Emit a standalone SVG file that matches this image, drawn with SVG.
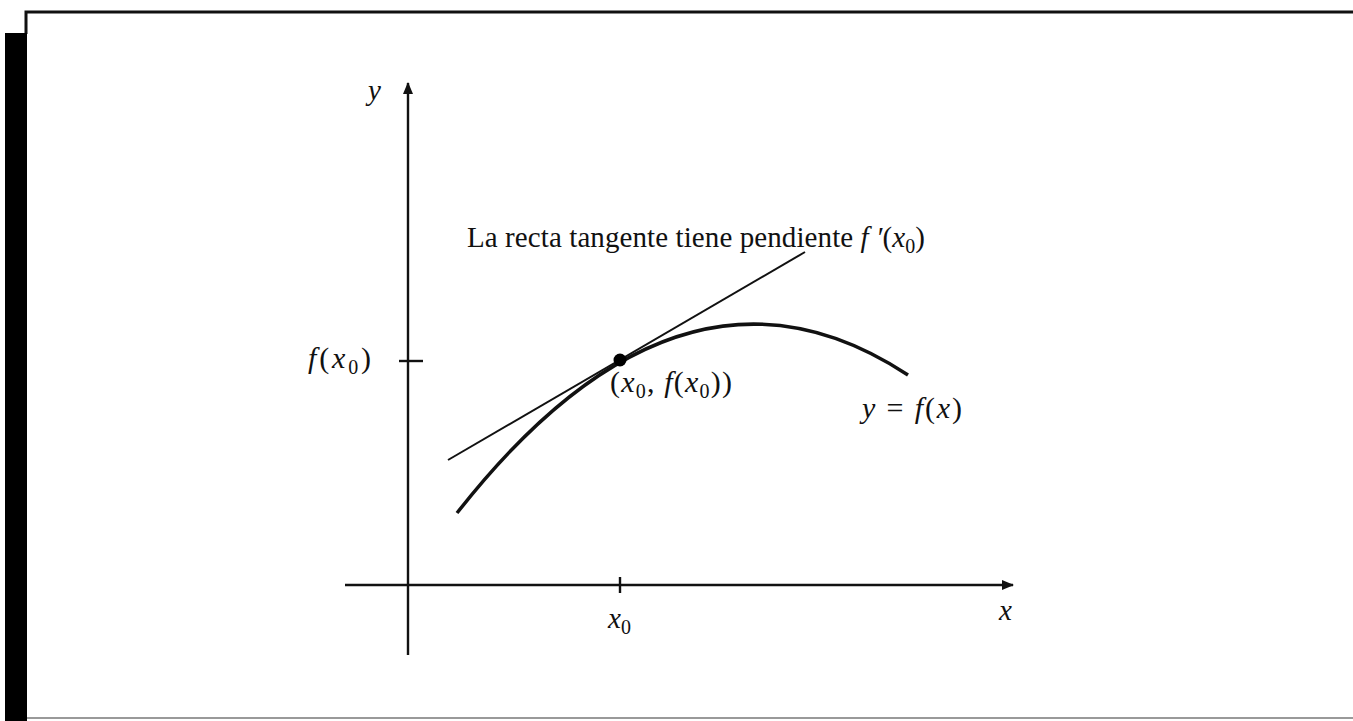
<svg xmlns="http://www.w3.org/2000/svg" width="1353" height="721" viewBox="0 0 1353 721">
<style>
.t{font-family:"Liberation Serif","Times New Roman",serif;font-size:29px;fill:#111}
.l{font-size:30px}
.i{font-style:italic}
.s{font-size:20px}
.ax{stroke:#111;stroke-width:2.4;fill:none}
</style>
<defs>
<marker id="ah" markerWidth="12" markerHeight="12" refX="11" refY="6" orient="auto" markerUnits="userSpaceOnUse">
<path d="M0,1 L12,6 L0,11 Z" fill="#111"/>
</marker>
</defs>
<rect width="1353" height="721" fill="#fff"/>
<g id="frame">
<path d="M26,34 V12 H1353" stroke="#111" stroke-width="3" fill="none"/>
<rect x="5" y="33" width="22" height="688" fill="#000"/>
<line x1="27" y1="718" x2="1353" y2="718" stroke="#999" stroke-width="2"/>
</g>
<g id="connectors">
<line class="ax" x1="408" y1="655" x2="408" y2="83" marker-end="url(#ah)"/>
<line class="ax" x1="345" y1="585" x2="1013" y2="585" marker-end="url(#ah)"/>
<line class="ax" x1="620" y1="577" x2="620" y2="593"/>
<line class="ax" x1="399" y1="361" x2="423" y2="361"/>
<line id="tangent" stroke="#111" stroke-width="2" x1="448" y1="460" x2="805" y2="252"/>
<path id="curve" d="M457,513 Q682,226 908,375" stroke="#111" stroke-width="3.5" fill="none"/>
</g>
<g id="point"><circle cx="620" cy="360" r="6.5" fill="#000"/></g>
<g id="labels">
<text class="t i" x="368" y="100">y</text>
<text class="t i" x="999" y="620">x</text>
<text class="t" x="608" y="628"><tspan class="i">x</tspan><tspan class="s" dy="6">0</tspan></text>
<text class="t l" x="308" y="368" textLength="63" lengthAdjust="spacing"><tspan class="i">f</tspan>(<tspan class="i">x</tspan><tspan class="s" dy="6">0</tspan><tspan dy="-6">)</tspan></text>
<text class="t l" x="610" y="392" textLength="122" lengthAdjust="spacing">(<tspan class="i">x</tspan><tspan class="s" dy="6">0</tspan><tspan dy="-6">, </tspan><tspan class="i">f</tspan>(<tspan class="i">x</tspan><tspan class="s" dy="6">0</tspan><tspan dy="-6">))</tspan></text>
<text class="t l" x="862" y="418" textLength="100" lengthAdjust="spacing"><tspan class="i">y</tspan> = <tspan class="i">f</tspan>(<tspan class="i">x</tspan>)</text>
<text class="t" x="467" y="247" textLength="458" lengthAdjust="spacing">La recta tangente tiene pendiente <tspan class="i">f ′</tspan>(<tspan class="i">x</tspan><tspan class="s" dy="6">0</tspan><tspan dy="-6">)</tspan></text>
</g>
</svg>
